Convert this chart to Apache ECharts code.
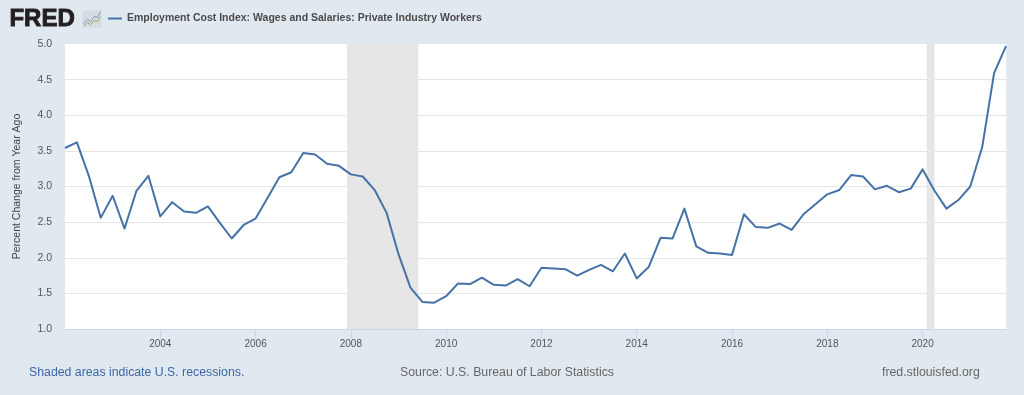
<!DOCTYPE html>
<html><head><meta charset="utf-8">
<style>html,body{margin:0;padding:0;background:#e1e9f0}#c{width:1024px;height:395px}</style>
<script src="https://cdn.jsdelivr.net/npm/echarts@6/dist/echarts.min.js"></script>
</head><body><div id="c"></div>
<script>
const seriesName = 'Employment Cost Index: Wages and Salaries: Private Industry Workers';
const startYear = 2002;
const values = [
 3.54,3.62,3.15,2.56, 2.87,2.41,2.94,3.15, 2.58,2.78,2.65,2.63, 2.72,2.49,2.27,2.46,
 2.55,2.84,3.13,3.20, 3.47,3.45,3.32,3.29, 3.17,3.14,2.95,2.63, 2.05,1.58,1.38,1.37,
 1.46,1.64,1.63,1.72, 1.62,1.61,1.70,1.60, 1.86,1.85,1.84,1.75, 1.83,1.90,1.81,2.06,
 1.71,1.87,2.28,2.27, 2.69,2.16,2.07,2.06, 2.04,2.61,2.43,2.42, 2.48,2.39,2.61,2.75,
 2.89,2.95,3.16,3.14, 2.96,3.01,2.92,2.97, 3.24,2.94,2.69,2.81, 3.00,3.55,4.59,4.97
];
// recession bounds in decimal years: Dec 2007 - Jun 2009, Feb 2020 - Apr 2020
const recessions = [[2007.92,2009.414],[2020.085,2020.25]];
const tickYears = [2004,2006,2008,2010,2012,2014,2016,2018,2020];
const yTicks = [1.0,1.5,2.0,2.5,3.0,3.5,4.0,4.5,5.0];

const points = values.map((v,i)=>[startYear+i/4, v]);
const FONT = '"Liberation Sans", Helvetica, Arial, sans-serif';

const chart = echarts.init(document.getElementById('c'), null, {renderer:'canvas'});
chart.setOption({
  animation:false,
  backgroundColor:'#e1e9f0',
  textStyle:{fontFamily:FONT},
  grid:{left:65,right:18,top:44,bottom:66,outerBoundsMode:'none',containLabel:false,show:true,backgroundColor:'#ffffff',borderWidth:0},
  legend:{
    left:108,top:13,padding:0,itemWidth:14,itemHeight:2,itemGap:5,icon:'rect',
    textStyle:{fontFamily:FONT,fontSize:10.5,fontWeight:'bold',color:'#4a4a4a'},
    data:[{name:seriesName}]
  },
  xAxis:{
    type:'value',min:points[0][0],max:points[points.length-1][0],
    axisLine:{show:true,onZero:false,lineStyle:{color:'#ccd6eb',width:1}},
    axisTick:{show:true,length:10,lineStyle:{color:'#ccd6eb'},customValues:tickYears},
    axisLabel:{color:'#555',fontSize:10,margin:10,fontFamily:FONT,customValues:tickYears,hideOverlap:false,formatter:v=>String(v)},
    splitLine:{show:false}
  },
  yAxis:{
    type:'value',min:yTicks[0],max:yTicks[yTicks.length-1],interval:0.5,
    name:'Percent Change from Year Ago',nameLocation:'middle',nameGap:42,nameRotate:90,
    nameTextStyle:{color:'#444',fontSize:10.5,fontFamily:FONT},
    axisLine:{show:false},axisTick:{show:false},
    axisLabel:{color:'#555',fontSize:10.5,margin:13,fontFamily:FONT,formatter:v=>v.toFixed(1)},
    splitLine:{show:true,showMinLine:false,showMaxLine:false,lineStyle:{color:'#e6e6e6',width:1}}
  },
  series:[{
    name:seriesName,type:'line',data:points,showSymbol:false,symbol:'none',smooth:false,
    lineStyle:{color:'#4572a7',width:2,join:'round'},itemStyle:{color:'#4572a7'},z:5,
    markArea:{silent:true,itemStyle:{color:'#e6e6e6',opacity:1},z:1,label:{show:false},
      data:recessions.map(r=>[{xAxis:r[0]},{xAxis:r[1]}])}
  }],
  graphic:[
    {type:'text',left:9,top:7,style:{text:'FRED',font:'bold 24px '+FONT,fill:'#231f20',stroke:'#231f20',lineWidth:0.9}},
    {type:'group',left:81,top:9,children:[
      {type:'rect',shape:{x:0,y:0,width:19,height:17,r:1},style:{fill:'#d5dbe0'}},
      {type:'polyline',shape:{points:[[1,13],[5,9],[8,11],[12,6],[15,7],[18,1]]},style:{stroke:'#7d9bc0',fill:null,lineWidth:1}},
      {type:'polyline',shape:{points:[[1,16],[5,12],[8,14],[12,10],[15,11],[18,6]]},style:{stroke:'#8fb35a',fill:null,lineWidth:1}}
    ]},
    {type:'text',left:29,top:367,style:{text:'Shaded areas indicate U.S. recessions.',font:'12.3px '+FONT,fill:'#3c66a5'}},
    {type:'text',left:400,top:367,style:{text:'Source: U.S. Bureau of Labor Statistics',font:'12.3px '+FONT,fill:'#666'}},
    {type:'text',left:882,top:367,style:{text:'fred.stlouisfed.org',font:'12.3px '+FONT,fill:'#666'}}
  ]
});
</script></body></html>
